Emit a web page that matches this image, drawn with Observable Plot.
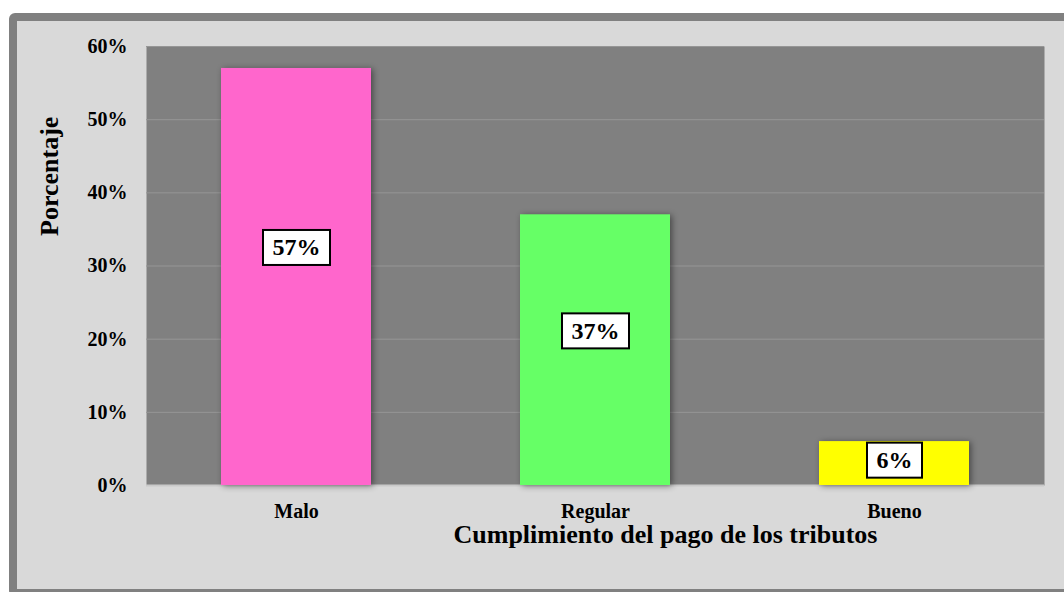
<!DOCTYPE html>
<html><head><meta charset="utf-8">
<script src="https://cdn.jsdelivr.net/npm/d3@7"></script>
<script src="https://cdn.jsdelivr.net/npm/@observablehq/plot@0.6"></script>
<style>
html,body{margin:0;padding:0;background:#fff;overflow:hidden;width:1064px;height:592px;}
#frame{position:absolute;left:9px;top:13px;width:1100px;height:584px;box-sizing:border-box;border:8px solid #808080;border-radius:6px;background:#d9d9d9;}
#chart{position:absolute;left:0;top:0;}
.bars rect{filter:drop-shadow(2px 1px 3px rgba(0,0,0,0.45));}
</style></head><body>
<div id="frame"></div><div id="chart"></div>
<script>
const categories = ["Malo", "Regular", "Bueno"];
const values = [57, 37, 6];
const colors = ["#ff66cc", "#66ff66", "#ffff00"];
const yTicks = [0, 10, 20, 30, 40, 50, 60];
const xTitle = "Cumplimiento del pago de los tributos";
const yTitle = "Porcentaje";

const data = categories.map((c, i) => ({cat: c, value: values[i]}));
const font = '"Liberation Serif","Times New Roman",serif';

const plot = Plot.plot({
  width: 1064, height: 592,
  marginLeft: 146, marginRight: 20, marginTop: 46, marginBottom: 107,
  style: {background: "transparent", fontFamily: font, fontWeight: "bold", color: "#000", overflow: "visible"},
  x: {domain: categories, paddingInner: 0.5, paddingOuter: 0.25, label: null},
  y: {domain: [0, 60], label: null},
  color: {domain: categories, range: colors},
  marks: [
    Plot.frame({fill: "#808080", stroke: null}),
    Plot.gridY(yTicks.filter(t => t > 0), {stroke: "#969696", strokeOpacity: 1}),
    Plot.ruleY([0], {stroke: "#c9c9c9", strokeWidth: 2}),
    Plot.barY(data, {x: "cat", y: "value", fill: "cat", className: "bars"}),
    Plot.text(data, {x: "cat", y: d => d.value * 0.57, text: d => d.value + "%", fontSize: 24, fill: "#000", className: "vlabels"}),
    Plot.axisY({ticks: yTicks, tickFormat: d => d + "%", tickSize: 0, tickPadding: 19, fontSize: 20, label: null}),
    Plot.axisX({tickSize: 0, tickPadding: 18, fontSize: 20, label: null}),
    Plot.text([xTitle], {frameAnchor: "bottom", dx: 70, dy: 49, fontSize: 26, lineAnchor: "middle"}),
    Plot.text([yTitle], {frameAnchor: "left", rotate: -90, dx: -97, dy: -30, fontSize: 26, lineAnchor: "middle"})
  ]
});
document.getElementById("chart").append(plot);

d3.select(plot).selectAll("g.vlabels text").each(function() {
  const b = this.getBBox();
  const padX = 9.5, padY = 4.5;
  d3.select(this.parentNode).insert("rect", () => this)
    .attr("transform", this.getAttribute("transform"))
    .attr("x", b.x - padX).attr("y", b.y - padY)
    .attr("width", b.width + 2 * padX).attr("height", b.height + 2 * padY)
    .attr("fill", "#fff").attr("stroke", "#000").attr("stroke-width", 2);
});
</script>
</body></html>
